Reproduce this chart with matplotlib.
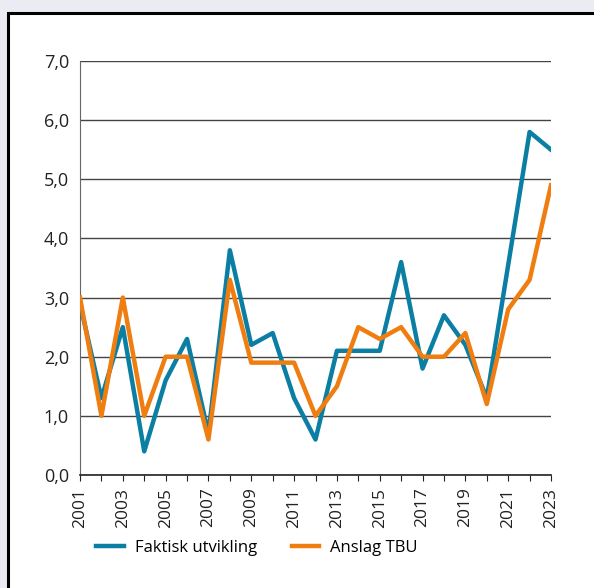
import matplotlib
matplotlib.use("Agg")
import matplotlib.pyplot as plt
from matplotlib.patches import Rectangle
from matplotlib.ticker import FuncFormatter

plt.rcParams['font.family'] = ['Open Sans', 'DejaVu Sans']

years = list(range(2001, 2024))
faktisk = [2.9, 1.3, 2.5, 0.4, 1.6, 2.3, 0.7, 3.8, 2.2, 2.4, 1.3, 0.6,
           2.1, 2.1, 2.1, 3.6, 1.8, 2.7, 2.2, 1.3, 3.55, 5.8, 5.5]
anslag = [3.0, 1.0, 3.0, 1.0, 2.0, 2.0, 0.6, 3.3, 1.9, 1.9, 1.9, 1.0,
          1.5, 2.5, 2.3, 2.5, 2.0, 2.0, 2.4, 1.2, 2.8, 3.3, 4.9]

W, H = 594, 588
fig = plt.figure(figsize=(W / 100, H / 100), dpi=100, facecolor='#ebebf4')

# white panel with black frame
fig.patches.append(Rectangle((8 / W, -0.1), 1.2, 1.1 - 13 / H, transform=fig.transFigure,
                             facecolor='white', edgecolor='black', linewidth=2.2, zorder=-10))

ax = fig.add_axes([80 / W, 1 - 475 / H, (551 - 80) / W, (475 - 61) / H])
ax.set_zorder(2)
ax.set_facecolor('none')

ax.plot(years, faktisk, color='#0b7ea3', linewidth=3.2, label='Faktisk utvikling', zorder=3)
ax.plot(years, anslag, color='#ef7d0f', linewidth=3.2, label='Anslag TBU', zorder=4)

ax.set_xlim(2001, 2023)
ax.set_ylim(0, 7)
ax.set_yticks(range(0, 8))
ax.yaxis.set_major_formatter(FuncFormatter(lambda v, p: f"{v:.1f}".replace('.', ',')))
ax.set_xticks(years)
ax.set_xticklabels([str(y) if (y - 2001) % 2 == 0 else '' for y in years], rotation=90)

ax.grid(axis='y', color='#444444', linewidth=1.0)
ax.set_axisbelow(True)
for s in ['top', 'right']:
    ax.spines[s].set_visible(False)
ax.spines['left'].set_color('#666666')
ax.spines['bottom'].set_color('#222222')
ax.spines['bottom'].set_linewidth(1.2)
ax.tick_params(axis='y', length=0, pad=8, labelsize=13, colors='#222222')
ax.tick_params(axis='x', length=4, direction='out', color='#222222', labelsize=12.5,
               colors='#222222', pad=5)

leg = fig.legend(loc='center', bbox_to_anchor=(257 / W, 1 - 548 / H), ncol=2, frameon=False,
                 fontsize=12, handlelength=1.65, columnspacing=2.1, handletextpad=0.65)
leg.set_zorder(5)

fig.savefig('out.png', dpi=100, facecolor=fig.get_facecolor())
